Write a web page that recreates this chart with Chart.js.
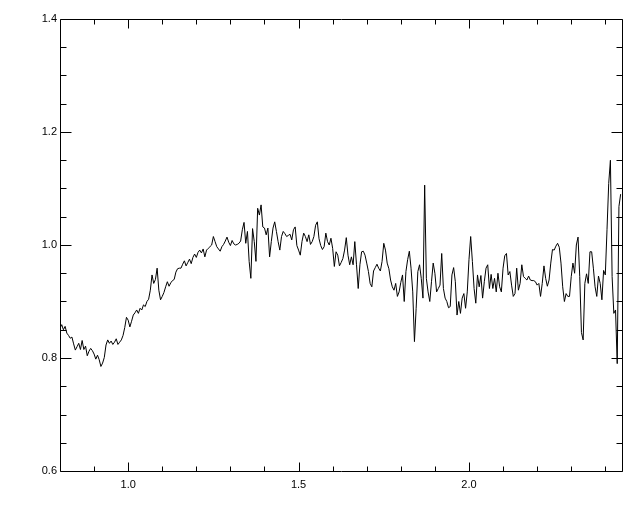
<!DOCTYPE html>
<html>
<head>
<meta charset="utf-8">
<script src="https://cdn.jsdelivr.net/npm/chart.js@4"></script>
<style>
  html, body { margin: 0; padding: 0; background: #fff; }
  canvas { display: block; }
</style>
</head>
<body>
<canvas id="spectrum" width="640" height="512"></canvas>
<script>
// wavelength grid (0.005 spacing)
const wavelength = [
  0.800, 0.805, 0.810, 0.815, 0.820, 0.825, 0.830, 0.835, 0.840, 0.845,
  0.850, 0.855, 0.860, 0.865, 0.870, 0.875, 0.880, 0.885, 0.890, 0.895,
  0.900, 0.905, 0.910, 0.915, 0.920, 0.925, 0.930, 0.935, 0.940, 0.945,
  0.950, 0.955, 0.960, 0.965, 0.970, 0.975, 0.980, 0.985, 0.990, 0.995,
  1.000, 1.005, 1.010, 1.015, 1.020, 1.025, 1.030, 1.035, 1.040, 1.045,
  1.050, 1.055, 1.060, 1.065, 1.070, 1.075, 1.080, 1.085, 1.090, 1.095,
  1.100, 1.105, 1.110, 1.115, 1.120, 1.125, 1.130, 1.135, 1.140, 1.145,
  1.150, 1.155, 1.160, 1.165, 1.170, 1.175, 1.180, 1.185, 1.190, 1.195,
  1.200, 1.205, 1.210, 1.215, 1.220, 1.225, 1.230, 1.235, 1.240, 1.245,
  1.250, 1.255, 1.260, 1.265, 1.270, 1.275, 1.280, 1.285, 1.290, 1.295,
  1.300, 1.305, 1.310, 1.315, 1.320, 1.325, 1.330, 1.335, 1.340, 1.345,
  1.350, 1.355, 1.360, 1.365, 1.370, 1.375, 1.380, 1.385, 1.390, 1.395,
  1.400, 1.405, 1.410, 1.415, 1.420, 1.425, 1.430, 1.435, 1.440, 1.445,
  1.450, 1.455, 1.460, 1.465, 1.470, 1.475, 1.480, 1.485, 1.490, 1.495,
  1.500, 1.505, 1.510, 1.515, 1.520, 1.525, 1.530, 1.535, 1.540, 1.545,
  1.550, 1.555, 1.560, 1.565, 1.570, 1.575, 1.580, 1.585, 1.590, 1.595,
  1.600, 1.605, 1.610, 1.615, 1.620, 1.625, 1.630, 1.635, 1.640, 1.645,
  1.650, 1.655, 1.660, 1.665, 1.670, 1.675, 1.680, 1.685, 1.690, 1.695,
  1.700, 1.705, 1.710, 1.715, 1.720, 1.725, 1.730, 1.735, 1.740, 1.745,
  1.750, 1.755, 1.760, 1.765, 1.770, 1.775, 1.780, 1.785, 1.790, 1.795,
  1.800, 1.805, 1.810, 1.815, 1.820, 1.825, 1.830, 1.835, 1.840, 1.845,
  1.850, 1.855, 1.860, 1.865, 1.870, 1.875, 1.880, 1.885, 1.890, 1.895,
  1.900, 1.905, 1.910, 1.915, 1.920, 1.925, 1.930, 1.935, 1.940, 1.945,
  1.950, 1.955, 1.960, 1.965, 1.970, 1.975, 1.980, 1.985, 1.990, 1.995,
  2.000, 2.005, 2.010, 2.015, 2.020, 2.025, 2.030, 2.035, 2.040, 2.045,
  2.050, 2.055, 2.060, 2.065, 2.070, 2.075, 2.080, 2.085, 2.090, 2.095,
  2.100, 2.105, 2.110, 2.115, 2.120, 2.125, 2.130, 2.135, 2.140, 2.145,
  2.150, 2.155, 2.160, 2.165, 2.170, 2.175, 2.180, 2.185, 2.190, 2.195,
  2.200, 2.205, 2.210, 2.215, 2.220, 2.225, 2.230, 2.235, 2.240, 2.245,
  2.250, 2.255, 2.260, 2.265, 2.270, 2.275, 2.280, 2.285, 2.290, 2.295,
  2.300, 2.305, 2.310, 2.315, 2.320, 2.325, 2.330, 2.335, 2.340, 2.345,
  2.350, 2.355, 2.360, 2.365, 2.370, 2.375, 2.380, 2.385, 2.390, 2.395,
  2.400, 2.405, 2.410, 2.415, 2.420, 2.425, 2.430, 2.435, 2.440, 2.445
];

const flux = [
  0.853, 0.859, 0.850, 0.856, 0.844, 0.840, 0.835, 0.837, 0.825, 0.814,
  0.820, 0.826, 0.815, 0.831, 0.815, 0.821, 0.804, 0.812, 0.817, 0.813,
  0.807, 0.798, 0.805, 0.797, 0.785, 0.791, 0.801, 0.823, 0.832, 0.826,
  0.830, 0.824, 0.828, 0.834, 0.824, 0.828, 0.832, 0.840, 0.854, 0.872,
  0.867, 0.855, 0.865, 0.876, 0.880, 0.885, 0.879, 0.888, 0.885, 0.894,
  0.891, 0.900, 0.904, 0.920, 0.947, 0.932, 0.939, 0.959, 0.920, 0.903,
  0.909, 0.916, 0.926, 0.935, 0.927, 0.933, 0.937, 0.939, 0.952, 0.958,
  0.959, 0.959, 0.966, 0.972, 0.963, 0.969, 0.975, 0.967, 0.978, 0.984,
  0.978, 0.987, 0.991, 0.986, 0.993, 0.979, 0.991, 0.994, 0.997, 1.000,
  1.015, 1.006, 0.997, 0.993, 0.989, 0.997, 1.001, 1.007, 1.014, 1.005,
  0.999, 1.008, 1.002, 1.000, 1.001, 1.003, 1.007, 1.027, 1.040, 1.003,
  1.024, 0.971, 0.941, 1.029, 1.006, 0.971, 1.065, 1.053, 1.071, 1.032,
  1.030, 1.018, 1.030, 0.979, 1.006, 1.030, 1.041, 1.024, 1.006, 0.991,
  1.015, 1.024, 1.020, 1.015, 1.017, 1.019, 1.009, 1.027, 1.032, 0.999,
  0.991, 0.982, 1.006, 1.021, 1.015, 1.006, 1.018, 1.001, 1.006, 1.015,
  1.035, 1.041, 1.011, 0.999, 0.992, 0.997, 1.021, 1.006, 1.000, 1.012,
  0.994, 0.962, 0.988, 0.982, 0.963, 0.969, 0.976, 0.991, 1.013, 0.982,
  0.965, 0.979, 0.965, 1.006, 0.965, 0.923, 0.965, 0.988, 0.989, 0.982,
  0.968, 0.953, 0.932, 0.926, 0.954, 0.960, 0.966, 0.959, 0.954, 0.971,
  1.003, 0.991, 0.968, 0.958, 0.938, 0.926, 0.920, 0.932, 0.909, 0.917,
  0.934, 0.947, 0.900, 0.953, 0.974, 0.989, 0.959, 0.917, 0.829, 0.888,
  0.953, 0.965, 0.941, 0.906, 1.106, 0.941, 0.917, 0.900, 0.935, 0.968,
  0.950, 0.917, 0.923, 0.929, 0.985, 0.923, 0.906, 0.900, 0.889, 0.891,
  0.947, 0.960, 0.935, 0.876, 0.900, 0.879, 0.906, 0.914, 0.888, 0.917,
  0.974, 1.015, 0.971, 0.923, 0.897, 0.947, 0.926, 0.946, 0.906, 0.935,
  0.959, 0.965, 0.923, 0.948, 0.923, 0.941, 0.917, 0.950, 0.926, 0.917,
  0.959, 0.981, 0.985, 0.947, 0.953, 0.929, 0.909, 0.914, 0.959, 0.920,
  0.932, 0.965, 0.944, 0.941, 0.938, 0.945, 0.938, 0.937, 0.937, 0.935,
  0.929, 0.932, 0.909, 0.932, 0.963, 0.941, 0.927, 0.938, 0.968, 0.992,
  0.991, 0.998, 1.003, 0.996, 0.968, 0.926, 0.900, 0.914, 0.909, 0.909,
  0.944, 0.968, 0.950, 1.000, 1.014, 0.944, 0.845, 0.832, 0.932, 0.949,
  0.932, 0.988, 0.988, 0.959, 0.926, 0.909, 0.945, 0.932, 0.903, 0.955,
  0.947, 1.027, 1.109, 1.150, 0.944, 0.879, 0.885, 0.790, 1.068, 1.090
];

// axis ticks
const xTickLabels = [1.0, 1.5, 2.0];
const xMinorTicks = [0.9, 1.1, 1.2, 1.3, 1.4, 1.6, 1.7, 1.8, 1.9, 2.1, 2.2, 2.3, 2.4];
const yTickLabels = [0.6, 0.8, 1.0, 1.2, 1.4];
const yMinorTicks = [0.65, 0.7, 0.75, 0.85, 0.9, 0.95, 1.05, 1.1, 1.15, 1.25, 1.3, 1.35];

const points = wavelength.map((w, i) => ({ x: w, y: flux[i] }));

// IDL style frame: box with inward ticks on all four sides
const frame = {
  id: 'frame',
  afterDraw(chart) {
    const { ctx, chartArea: a, scales: { x, y } } = chart;
    const L = Math.round(a.left) + 0.5, R = Math.round(a.right) + 0.5;
    const T = Math.round(a.top) + 0.5, B = Math.round(a.bottom) + 0.5;
    ctx.save();
    ctx.strokeStyle = '#000';
    ctx.lineWidth = 1;
    ctx.beginPath();
    ctx.rect(L, T, R - L, B - T);
    const xt = (v, len) => {
      const p = Math.round(x.getPixelForValue(v)) + 0.5;
      ctx.moveTo(p, B); ctx.lineTo(p, B - len);
      ctx.moveTo(p, T); ctx.lineTo(p, T + len);
    };
    const yt = (v, len) => {
      const p = Math.round(y.getPixelForValue(v)) + 0.5;
      ctx.moveTo(L, p); ctx.lineTo(L + len, p);
      ctx.moveTo(R, p); ctx.lineTo(R - len, p);
    };
    xTickLabels.forEach(v => xt(v, 9));
    xMinorTicks.forEach(v => xt(v, 5));
    yTickLabels.forEach(v => yt(v, 11));
    yMinorTicks.forEach(v => yt(v, 6));
    ctx.stroke();
    ctx.restore();
  }
};

new Chart(document.getElementById('spectrum'), {
  type: 'line',
  data: {
    datasets: [{
      data: points,
      borderColor: '#000',
      borderWidth: 1,
      pointRadius: 0,
      tension: 0,
      fill: false
    }]
  },
  options: {
    responsive: false,
    animation: false,
    layout: { padding: { top: 19, right: 18, left: 0, bottom: 0 } },
    plugins: { legend: { display: false }, tooltip: { enabled: false } },
    scales: {
      x: {
        type: 'linear',
        min: 0.8,
        max: 2.449,
        afterFit: s => { s.height = 41; },
        afterBuildTicks: s => { s.ticks = xTickLabels.map(v => ({ value: v })); },
        grid: { display: false, drawTicks: false },
        border: { display: false },
        ticks: {
          padding: 7,
          color: '#000',
          maxRotation: 0,
          font: { family: 'Liberation Sans', size: 11 },
          callback: v => Number(v).toFixed(1)
        }
      },
      y: {
        type: 'linear',
        min: 0.6,
        max: 1.4,
        afterFit: s => { s.width = 60; },
        afterBuildTicks: s => { s.ticks = yTickLabels.map(v => ({ value: v })); },
        grid: { display: false, drawTicks: false },
        border: { display: false },
        ticks: {
          padding: 3,
          color: '#000',
          font: { family: 'Liberation Sans', size: 11 },
          callback: v => Number(v).toFixed(1)
        }
      }
    }
  },
  plugins: [frame]
});
</script>
</body>
</html>
